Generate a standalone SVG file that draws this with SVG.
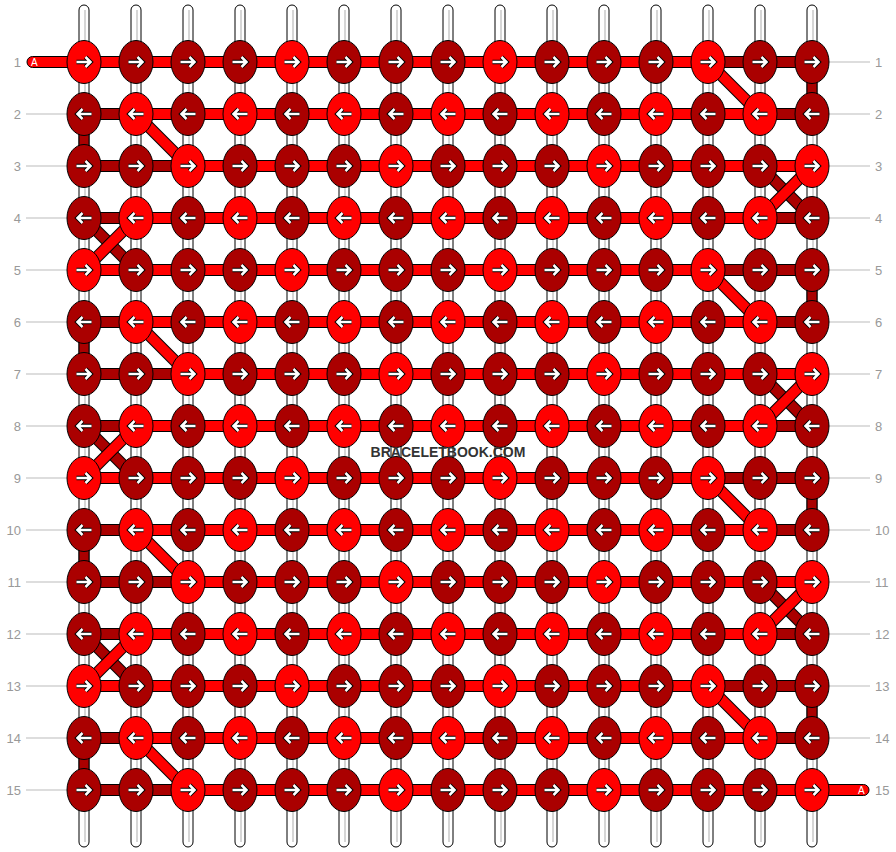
<svg xmlns="http://www.w3.org/2000/svg" xmlns:xlink="http://www.w3.org/1999/xlink" width="896" height="852" viewBox="0 0 896 852">
<style>
.s{fill:#fff;stroke:#000;stroke-width:1}
.g{stroke:#c8c8c8;stroke-width:1.5}
.hb{fill:#f00;stroke:#000;stroke-width:1}
.hd{fill:#a00;stroke:#000;stroke-width:1}
.vd{fill:#a00;stroke:#000;stroke-width:1}
.o{stroke:#000;stroke-width:12}
.db{stroke:#f00;stroke-width:10}
.dd{stroke:#a00;stroke-width:10}
.lab{font-family:"Liberation Sans",Arial,sans-serif;font-size:13px;fill:#999}
.ln{stroke:#bbb;stroke-width:1}
.ao{fill:none;stroke:#000;stroke-width:4.5}
.ai{fill:none;stroke:#fff;stroke-width:2.5}
.eb{fill:#f00;stroke:#000;stroke-width:1}
.ed{fill:#a00;stroke:#000;stroke-width:1}
.at{font-family:"Liberation Sans",Arial,sans-serif;font-size:10px;fill:#fff}
</style>
<defs>
<path id="aR" d="M-7.5,0H6M1.5,-5L6.5,0L1.5,5"/>
<path id="aL" d="M7.5,0H-6M-1.5,-5L-6.5,0L-1.5,5"/>
<g id="bR"><ellipse rx="17" ry="21.5" class="eb"/><use href="#aR" class="ao"/><use href="#aR" class="ai"/></g>
<g id="dR"><ellipse rx="17" ry="21.5" class="ed"/><use href="#aR" class="ao"/><use href="#aR" class="ai"/></g>
<g id="bL"><ellipse rx="17" ry="21.5" class="eb"/><use href="#aL" class="ao"/><use href="#aL" class="ai"/></g>
<g id="dL"><ellipse rx="17" ry="21.5" class="ed"/><use href="#aL" class="ao"/><use href="#aL" class="ai"/></g>
</defs>
<rect width="896" height="852" fill="#fff"/>
<g id="labels">
<line class="ln" x1="26" y1="114" x2="67" y2="114"/><line class="ln" x1="26" y1="166" x2="67" y2="166"/><line class="ln" x1="26" y1="218" x2="67" y2="218"/><line class="ln" x1="26" y1="270" x2="67" y2="270"/><line class="ln" x1="26" y1="322" x2="67" y2="322"/><line class="ln" x1="26" y1="374" x2="67" y2="374"/><line class="ln" x1="26" y1="426" x2="67" y2="426"/><line class="ln" x1="26" y1="478" x2="67" y2="478"/><line class="ln" x1="26" y1="530" x2="67" y2="530"/><line class="ln" x1="26" y1="582" x2="67" y2="582"/><line class="ln" x1="26" y1="634" x2="67" y2="634"/><line class="ln" x1="26" y1="686" x2="67" y2="686"/><line class="ln" x1="26" y1="738" x2="67" y2="738"/><line class="ln" x1="26" y1="790" x2="67" y2="790"/>
<line class="ln" x1="829" y1="62" x2="870" y2="62"/><line class="ln" x1="829" y1="114" x2="870" y2="114"/><line class="ln" x1="829" y1="166" x2="870" y2="166"/><line class="ln" x1="829" y1="218" x2="870" y2="218"/><line class="ln" x1="829" y1="270" x2="870" y2="270"/><line class="ln" x1="829" y1="322" x2="870" y2="322"/><line class="ln" x1="829" y1="374" x2="870" y2="374"/><line class="ln" x1="829" y1="426" x2="870" y2="426"/><line class="ln" x1="829" y1="478" x2="870" y2="478"/><line class="ln" x1="829" y1="530" x2="870" y2="530"/><line class="ln" x1="829" y1="582" x2="870" y2="582"/><line class="ln" x1="829" y1="634" x2="870" y2="634"/><line class="ln" x1="829" y1="686" x2="870" y2="686"/><line class="ln" x1="829" y1="738" x2="870" y2="738"/>
<g class="lab" text-anchor="end">
<text x="21" y="67">1</text><text x="21" y="119">2</text><text x="21" y="171">3</text><text x="21" y="223">4</text><text x="21" y="275">5</text><text x="21" y="327">6</text><text x="21" y="379">7</text><text x="21" y="431">8</text><text x="21" y="483">9</text><text x="21" y="535">10</text><text x="21" y="587">11</text><text x="21" y="639">12</text><text x="21" y="691">13</text><text x="21" y="743">14</text><text x="21" y="795">15</text>
</g>
<g class="lab">
<text x="875" y="67">1</text><text x="875" y="119">2</text><text x="875" y="171">3</text><text x="875" y="223">4</text><text x="875" y="275">5</text><text x="875" y="327">6</text><text x="875" y="379">7</text><text x="875" y="431">8</text><text x="875" y="483">9</text><text x="875" y="535">10</text><text x="875" y="587">11</text><text x="875" y="639">12</text><text x="875" y="691">13</text><text x="875" y="743">14</text><text x="875" y="795">15</text>
</g>
</g>
<g id="strings">
<rect class="s" x="79" y="5" width="10" height="842" rx="5"/><rect class="s" x="131" y="5" width="10" height="842" rx="5"/><rect class="s" x="183" y="5" width="10" height="842" rx="5"/><rect class="s" x="235" y="5" width="10" height="842" rx="5"/><rect class="s" x="287" y="5" width="10" height="842" rx="5"/><rect class="s" x="339" y="5" width="10" height="842" rx="5"/><rect class="s" x="391" y="5" width="10" height="842" rx="5"/><rect class="s" x="443" y="5" width="10" height="842" rx="5"/><rect class="s" x="495" y="5" width="10" height="842" rx="5"/><rect class="s" x="547" y="5" width="10" height="842" rx="5"/><rect class="s" x="599" y="5" width="10" height="842" rx="5"/><rect class="s" x="651" y="5" width="10" height="842" rx="5"/><rect class="s" x="703" y="5" width="10" height="842" rx="5"/><rect class="s" x="755" y="5" width="10" height="842" rx="5"/><rect class="s" x="807" y="5" width="10" height="842" rx="5"/>
<g class="g"><line x1="85" y1="10" x2="85" y2="842"/><line x1="137" y1="10" x2="137" y2="842"/><line x1="189" y1="10" x2="189" y2="842"/><line x1="241" y1="10" x2="241" y2="842"/><line x1="293" y1="10" x2="293" y2="842"/><line x1="345" y1="10" x2="345" y2="842"/><line x1="397" y1="10" x2="397" y2="842"/><line x1="449" y1="10" x2="449" y2="842"/><line x1="501" y1="10" x2="501" y2="842"/><line x1="553" y1="10" x2="553" y2="842"/><line x1="605" y1="10" x2="605" y2="842"/><line x1="657" y1="10" x2="657" y2="842"/><line x1="709" y1="10" x2="709" y2="842"/><line x1="761" y1="10" x2="761" y2="842"/><line x1="813" y1="10" x2="813" y2="842"/></g>
</g>
<g id="connectors">
<rect class="vd" x="807" y="62" width="10" height="52"/><rect class="vd" x="807" y="270" width="10" height="52"/><rect class="vd" x="807" y="478" width="10" height="52"/><rect class="vd" x="807" y="686" width="10" height="52"/>
<rect class="vd" x="79" y="114" width="10" height="52"/><rect class="vd" x="79" y="322" width="10" height="52"/><rect class="vd" x="79" y="530" width="10" height="52"/><rect class="vd" x="79" y="738" width="10" height="52"/>
<g class="o"><line x1="708" y1="62" x2="760" y2="114"/><line x1="708" y1="270" x2="760" y2="322"/><line x1="708" y1="478" x2="760" y2="530"/><line x1="708" y1="686" x2="760" y2="738"/><line x1="136" y1="114" x2="188" y2="166"/><line x1="136" y1="322" x2="188" y2="374"/><line x1="136" y1="530" x2="188" y2="582"/><line x1="136" y1="738" x2="188" y2="790"/></g>
<g class="db"><line x1="708" y1="62" x2="760" y2="114"/><line x1="708" y1="270" x2="760" y2="322"/><line x1="708" y1="478" x2="760" y2="530"/><line x1="708" y1="686" x2="760" y2="738"/><line x1="136" y1="114" x2="188" y2="166"/><line x1="136" y1="322" x2="188" y2="374"/><line x1="136" y1="530" x2="188" y2="582"/><line x1="136" y1="738" x2="188" y2="790"/></g>
<g class="o"><line x1="760" y1="166" x2="812" y2="218"/><line x1="760" y1="374" x2="812" y2="426"/><line x1="760" y1="582" x2="812" y2="634"/><line x1="84" y1="218" x2="136" y2="270"/><line x1="84" y1="426" x2="136" y2="478"/><line x1="84" y1="634" x2="136" y2="686"/></g>
<g class="dd"><line x1="760" y1="166" x2="812" y2="218"/><line x1="760" y1="374" x2="812" y2="426"/><line x1="760" y1="582" x2="812" y2="634"/><line x1="84" y1="218" x2="136" y2="270"/><line x1="84" y1="426" x2="136" y2="478"/><line x1="84" y1="634" x2="136" y2="686"/></g>
<g class="o"><line x1="812" y1="166" x2="760" y2="218"/><line x1="812" y1="374" x2="760" y2="426"/><line x1="812" y1="582" x2="760" y2="634"/><line x1="136" y1="218" x2="84" y2="270"/><line x1="136" y1="426" x2="84" y2="478"/><line x1="136" y1="634" x2="84" y2="686"/></g>
<g class="db"><line x1="812" y1="166" x2="760" y2="218"/><line x1="812" y1="374" x2="760" y2="426"/><line x1="812" y1="582" x2="760" y2="634"/><line x1="136" y1="218" x2="84" y2="270"/><line x1="136" y1="426" x2="84" y2="478"/><line x1="136" y1="634" x2="84" y2="686"/></g>
<rect class="hb" x="27" y="56.5" width="80" height="11" rx="5.5"/>
<rect class="hb" x="790" y="784.5" width="79" height="11" rx="5.5"/>
<rect class="hb" x="84" y="56.5" width="728" height="11"/><rect class="hb" x="84" y="108.5" width="728" height="11"/><rect class="hb" x="84" y="160.5" width="728" height="11"/><rect class="hb" x="84" y="212.5" width="728" height="11"/><rect class="hb" x="84" y="264.5" width="728" height="11"/><rect class="hb" x="84" y="316.5" width="728" height="11"/><rect class="hb" x="84" y="368.5" width="728" height="11"/><rect class="hb" x="84" y="420.5" width="728" height="11"/><rect class="hb" x="84" y="472.5" width="728" height="11"/><rect class="hb" x="84" y="524.5" width="728" height="11"/><rect class="hb" x="84" y="576.5" width="728" height="11"/><rect class="hb" x="84" y="628.5" width="728" height="11"/><rect class="hb" x="84" y="680.5" width="728" height="11"/><rect class="hb" x="84" y="732.5" width="728" height="11"/><rect class="hb" x="84" y="784.5" width="728" height="11"/>
<rect class="hd" x="708" y="56.5" width="104" height="11"/><rect class="hd" x="708" y="264.5" width="104" height="11"/><rect class="hd" x="708" y="472.5" width="104" height="11"/><rect class="hd" x="708" y="680.5" width="104" height="11"/>
<rect class="hd" x="84" y="160.5" width="104" height="11"/><rect class="hd" x="84" y="368.5" width="104" height="11"/><rect class="hd" x="84" y="576.5" width="104" height="11"/><rect class="hd" x="84" y="784.5" width="104" height="11"/>
<rect class="hd" x="84" y="108.5" width="52" height="11"/><rect class="hd" x="760" y="108.5" width="52" height="11"/><rect class="hd" x="84" y="212.5" width="52" height="11"/><rect class="hd" x="760" y="212.5" width="52" height="11"/>
<rect class="hd" x="84" y="316.5" width="52" height="11"/><rect class="hd" x="760" y="316.5" width="52" height="11"/><rect class="hd" x="84" y="420.5" width="52" height="11"/><rect class="hd" x="760" y="420.5" width="52" height="11"/>
<rect class="hd" x="84" y="524.5" width="52" height="11"/><rect class="hd" x="760" y="524.5" width="52" height="11"/><rect class="hd" x="84" y="628.5" width="52" height="11"/><rect class="hd" x="760" y="628.5" width="52" height="11"/>
<rect class="hd" x="84" y="732.5" width="52" height="11"/><rect class="hd" x="760" y="732.5" width="52" height="11"/>
<text class="at" x="31" y="66">A</text><text class="at" x="858" y="794">A</text>
</g>
<g id="nodes">
<g id="n1-1"><use href="#bR" x="84" y="62"/></g><g id="n1-2"><use href="#dR" x="136" y="62"/></g><g id="n1-3"><use href="#dR" x="188" y="62"/></g><g id="n1-4"><use href="#dR" x="240" y="62"/></g><g id="n1-5"><use href="#bR" x="292" y="62"/></g><g id="n1-6"><use href="#dR" x="344" y="62"/></g><g id="n1-7"><use href="#dR" x="396" y="62"/></g><g id="n1-8"><use href="#dR" x="448" y="62"/></g><g id="n1-9"><use href="#bR" x="500" y="62"/></g><g id="n1-10"><use href="#dR" x="552" y="62"/></g><g id="n1-11"><use href="#dR" x="604" y="62"/></g><g id="n1-12"><use href="#dR" x="656" y="62"/></g><g id="n1-13"><use href="#bR" x="708" y="62"/></g><g id="n1-14"><use href="#dR" x="760" y="62"/></g><g id="n1-15"><use href="#dR" x="812" y="62"/></g>
<g id="n2-1"><use href="#dL" x="84" y="114"/></g><g id="n2-2"><use href="#bL" x="136" y="114"/></g><g id="n2-3"><use href="#dL" x="188" y="114"/></g><g id="n2-4"><use href="#bL" x="240" y="114"/></g><g id="n2-5"><use href="#dL" x="292" y="114"/></g><g id="n2-6"><use href="#bL" x="344" y="114"/></g><g id="n2-7"><use href="#dL" x="396" y="114"/></g><g id="n2-8"><use href="#bL" x="448" y="114"/></g><g id="n2-9"><use href="#dL" x="500" y="114"/></g><g id="n2-10"><use href="#bL" x="552" y="114"/></g><g id="n2-11"><use href="#dL" x="604" y="114"/></g><g id="n2-12"><use href="#bL" x="656" y="114"/></g><g id="n2-13"><use href="#dL" x="708" y="114"/></g><g id="n2-14"><use href="#bL" x="760" y="114"/></g><g id="n2-15"><use href="#dL" x="812" y="114"/></g>
<g id="n3-1"><use href="#dR" x="84" y="166"/></g><g id="n3-2"><use href="#dR" x="136" y="166"/></g><g id="n3-3"><use href="#bR" x="188" y="166"/></g><g id="n3-4"><use href="#dR" x="240" y="166"/></g><g id="n3-5"><use href="#dR" x="292" y="166"/></g><g id="n3-6"><use href="#dR" x="344" y="166"/></g><g id="n3-7"><use href="#bR" x="396" y="166"/></g><g id="n3-8"><use href="#dR" x="448" y="166"/></g><g id="n3-9"><use href="#dR" x="500" y="166"/></g><g id="n3-10"><use href="#dR" x="552" y="166"/></g><g id="n3-11"><use href="#bR" x="604" y="166"/></g><g id="n3-12"><use href="#dR" x="656" y="166"/></g><g id="n3-13"><use href="#dR" x="708" y="166"/></g><g id="n3-14"><use href="#dR" x="760" y="166"/></g><g id="n3-15"><use href="#bR" x="812" y="166"/></g>
<g id="n4-1"><use href="#dL" x="84" y="218"/></g><g id="n4-2"><use href="#bL" x="136" y="218"/></g><g id="n4-3"><use href="#dL" x="188" y="218"/></g><g id="n4-4"><use href="#bL" x="240" y="218"/></g><g id="n4-5"><use href="#dL" x="292" y="218"/></g><g id="n4-6"><use href="#bL" x="344" y="218"/></g><g id="n4-7"><use href="#dL" x="396" y="218"/></g><g id="n4-8"><use href="#bL" x="448" y="218"/></g><g id="n4-9"><use href="#dL" x="500" y="218"/></g><g id="n4-10"><use href="#bL" x="552" y="218"/></g><g id="n4-11"><use href="#dL" x="604" y="218"/></g><g id="n4-12"><use href="#bL" x="656" y="218"/></g><g id="n4-13"><use href="#dL" x="708" y="218"/></g><g id="n4-14"><use href="#bL" x="760" y="218"/></g><g id="n4-15"><use href="#dL" x="812" y="218"/></g>
<g id="n5-1"><use href="#bR" x="84" y="270"/></g><g id="n5-2"><use href="#dR" x="136" y="270"/></g><g id="n5-3"><use href="#dR" x="188" y="270"/></g><g id="n5-4"><use href="#dR" x="240" y="270"/></g><g id="n5-5"><use href="#bR" x="292" y="270"/></g><g id="n5-6"><use href="#dR" x="344" y="270"/></g><g id="n5-7"><use href="#dR" x="396" y="270"/></g><g id="n5-8"><use href="#dR" x="448" y="270"/></g><g id="n5-9"><use href="#bR" x="500" y="270"/></g><g id="n5-10"><use href="#dR" x="552" y="270"/></g><g id="n5-11"><use href="#dR" x="604" y="270"/></g><g id="n5-12"><use href="#dR" x="656" y="270"/></g><g id="n5-13"><use href="#bR" x="708" y="270"/></g><g id="n5-14"><use href="#dR" x="760" y="270"/></g><g id="n5-15"><use href="#dR" x="812" y="270"/></g>
<g id="n6-1"><use href="#dL" x="84" y="322"/></g><g id="n6-2"><use href="#bL" x="136" y="322"/></g><g id="n6-3"><use href="#dL" x="188" y="322"/></g><g id="n6-4"><use href="#bL" x="240" y="322"/></g><g id="n6-5"><use href="#dL" x="292" y="322"/></g><g id="n6-6"><use href="#bL" x="344" y="322"/></g><g id="n6-7"><use href="#dL" x="396" y="322"/></g><g id="n6-8"><use href="#bL" x="448" y="322"/></g><g id="n6-9"><use href="#dL" x="500" y="322"/></g><g id="n6-10"><use href="#bL" x="552" y="322"/></g><g id="n6-11"><use href="#dL" x="604" y="322"/></g><g id="n6-12"><use href="#bL" x="656" y="322"/></g><g id="n6-13"><use href="#dL" x="708" y="322"/></g><g id="n6-14"><use href="#bL" x="760" y="322"/></g><g id="n6-15"><use href="#dL" x="812" y="322"/></g>
<g id="n7-1"><use href="#dR" x="84" y="374"/></g><g id="n7-2"><use href="#dR" x="136" y="374"/></g><g id="n7-3"><use href="#bR" x="188" y="374"/></g><g id="n7-4"><use href="#dR" x="240" y="374"/></g><g id="n7-5"><use href="#dR" x="292" y="374"/></g><g id="n7-6"><use href="#dR" x="344" y="374"/></g><g id="n7-7"><use href="#bR" x="396" y="374"/></g><g id="n7-8"><use href="#dR" x="448" y="374"/></g><g id="n7-9"><use href="#dR" x="500" y="374"/></g><g id="n7-10"><use href="#dR" x="552" y="374"/></g><g id="n7-11"><use href="#bR" x="604" y="374"/></g><g id="n7-12"><use href="#dR" x="656" y="374"/></g><g id="n7-13"><use href="#dR" x="708" y="374"/></g><g id="n7-14"><use href="#dR" x="760" y="374"/></g><g id="n7-15"><use href="#bR" x="812" y="374"/></g>
<g id="n8-1"><use href="#dL" x="84" y="426"/></g><g id="n8-2"><use href="#bL" x="136" y="426"/></g><g id="n8-3"><use href="#dL" x="188" y="426"/></g><g id="n8-4"><use href="#bL" x="240" y="426"/></g><g id="n8-5"><use href="#dL" x="292" y="426"/></g><g id="n8-6"><use href="#bL" x="344" y="426"/></g><g id="n8-7"><use href="#dL" x="396" y="426"/></g><g id="n8-8"><use href="#bL" x="448" y="426"/></g><g id="n8-9"><use href="#dL" x="500" y="426"/></g><g id="n8-10"><use href="#bL" x="552" y="426"/></g><g id="n8-11"><use href="#dL" x="604" y="426"/></g><g id="n8-12"><use href="#bL" x="656" y="426"/></g><g id="n8-13"><use href="#dL" x="708" y="426"/></g><g id="n8-14"><use href="#bL" x="760" y="426"/></g><g id="n8-15"><use href="#dL" x="812" y="426"/></g>
<g id="n9-1"><use href="#bR" x="84" y="478"/></g><g id="n9-2"><use href="#dR" x="136" y="478"/></g><g id="n9-3"><use href="#dR" x="188" y="478"/></g><g id="n9-4"><use href="#dR" x="240" y="478"/></g><g id="n9-5"><use href="#bR" x="292" y="478"/></g><g id="n9-6"><use href="#dR" x="344" y="478"/></g><g id="n9-7"><use href="#dR" x="396" y="478"/></g><g id="n9-8"><use href="#dR" x="448" y="478"/></g><g id="n9-9"><use href="#bR" x="500" y="478"/></g><g id="n9-10"><use href="#dR" x="552" y="478"/></g><g id="n9-11"><use href="#dR" x="604" y="478"/></g><g id="n9-12"><use href="#dR" x="656" y="478"/></g><g id="n9-13"><use href="#bR" x="708" y="478"/></g><g id="n9-14"><use href="#dR" x="760" y="478"/></g><g id="n9-15"><use href="#dR" x="812" y="478"/></g>
<g id="n10-1"><use href="#dL" x="84" y="530"/></g><g id="n10-2"><use href="#bL" x="136" y="530"/></g><g id="n10-3"><use href="#dL" x="188" y="530"/></g><g id="n10-4"><use href="#bL" x="240" y="530"/></g><g id="n10-5"><use href="#dL" x="292" y="530"/></g><g id="n10-6"><use href="#bL" x="344" y="530"/></g><g id="n10-7"><use href="#dL" x="396" y="530"/></g><g id="n10-8"><use href="#bL" x="448" y="530"/></g><g id="n10-9"><use href="#dL" x="500" y="530"/></g><g id="n10-10"><use href="#bL" x="552" y="530"/></g><g id="n10-11"><use href="#dL" x="604" y="530"/></g><g id="n10-12"><use href="#bL" x="656" y="530"/></g><g id="n10-13"><use href="#dL" x="708" y="530"/></g><g id="n10-14"><use href="#bL" x="760" y="530"/></g><g id="n10-15"><use href="#dL" x="812" y="530"/></g>
<g id="n11-1"><use href="#dR" x="84" y="582"/></g><g id="n11-2"><use href="#dR" x="136" y="582"/></g><g id="n11-3"><use href="#bR" x="188" y="582"/></g><g id="n11-4"><use href="#dR" x="240" y="582"/></g><g id="n11-5"><use href="#dR" x="292" y="582"/></g><g id="n11-6"><use href="#dR" x="344" y="582"/></g><g id="n11-7"><use href="#bR" x="396" y="582"/></g><g id="n11-8"><use href="#dR" x="448" y="582"/></g><g id="n11-9"><use href="#dR" x="500" y="582"/></g><g id="n11-10"><use href="#dR" x="552" y="582"/></g><g id="n11-11"><use href="#bR" x="604" y="582"/></g><g id="n11-12"><use href="#dR" x="656" y="582"/></g><g id="n11-13"><use href="#dR" x="708" y="582"/></g><g id="n11-14"><use href="#dR" x="760" y="582"/></g><g id="n11-15"><use href="#bR" x="812" y="582"/></g>
<g id="n12-1"><use href="#dL" x="84" y="634"/></g><g id="n12-2"><use href="#bL" x="136" y="634"/></g><g id="n12-3"><use href="#dL" x="188" y="634"/></g><g id="n12-4"><use href="#bL" x="240" y="634"/></g><g id="n12-5"><use href="#dL" x="292" y="634"/></g><g id="n12-6"><use href="#bL" x="344" y="634"/></g><g id="n12-7"><use href="#dL" x="396" y="634"/></g><g id="n12-8"><use href="#bL" x="448" y="634"/></g><g id="n12-9"><use href="#dL" x="500" y="634"/></g><g id="n12-10"><use href="#bL" x="552" y="634"/></g><g id="n12-11"><use href="#dL" x="604" y="634"/></g><g id="n12-12"><use href="#bL" x="656" y="634"/></g><g id="n12-13"><use href="#dL" x="708" y="634"/></g><g id="n12-14"><use href="#bL" x="760" y="634"/></g><g id="n12-15"><use href="#dL" x="812" y="634"/></g>
<g id="n13-1"><use href="#bR" x="84" y="686"/></g><g id="n13-2"><use href="#dR" x="136" y="686"/></g><g id="n13-3"><use href="#dR" x="188" y="686"/></g><g id="n13-4"><use href="#dR" x="240" y="686"/></g><g id="n13-5"><use href="#bR" x="292" y="686"/></g><g id="n13-6"><use href="#dR" x="344" y="686"/></g><g id="n13-7"><use href="#dR" x="396" y="686"/></g><g id="n13-8"><use href="#dR" x="448" y="686"/></g><g id="n13-9"><use href="#bR" x="500" y="686"/></g><g id="n13-10"><use href="#dR" x="552" y="686"/></g><g id="n13-11"><use href="#dR" x="604" y="686"/></g><g id="n13-12"><use href="#dR" x="656" y="686"/></g><g id="n13-13"><use href="#bR" x="708" y="686"/></g><g id="n13-14"><use href="#dR" x="760" y="686"/></g><g id="n13-15"><use href="#dR" x="812" y="686"/></g>
<g id="n14-1"><use href="#dL" x="84" y="738"/></g><g id="n14-2"><use href="#bL" x="136" y="738"/></g><g id="n14-3"><use href="#dL" x="188" y="738"/></g><g id="n14-4"><use href="#bL" x="240" y="738"/></g><g id="n14-5"><use href="#dL" x="292" y="738"/></g><g id="n14-6"><use href="#bL" x="344" y="738"/></g><g id="n14-7"><use href="#dL" x="396" y="738"/></g><g id="n14-8"><use href="#bL" x="448" y="738"/></g><g id="n14-9"><use href="#dL" x="500" y="738"/></g><g id="n14-10"><use href="#bL" x="552" y="738"/></g><g id="n14-11"><use href="#dL" x="604" y="738"/></g><g id="n14-12"><use href="#bL" x="656" y="738"/></g><g id="n14-13"><use href="#dL" x="708" y="738"/></g><g id="n14-14"><use href="#bL" x="760" y="738"/></g><g id="n14-15"><use href="#dL" x="812" y="738"/></g>
<g id="n15-1"><use href="#dR" x="84" y="790"/></g><g id="n15-2"><use href="#dR" x="136" y="790"/></g><g id="n15-3"><use href="#bR" x="188" y="790"/></g><g id="n15-4"><use href="#dR" x="240" y="790"/></g><g id="n15-5"><use href="#dR" x="292" y="790"/></g><g id="n15-6"><use href="#dR" x="344" y="790"/></g><g id="n15-7"><use href="#bR" x="396" y="790"/></g><g id="n15-8"><use href="#dR" x="448" y="790"/></g><g id="n15-9"><use href="#dR" x="500" y="790"/></g><g id="n15-10"><use href="#dR" x="552" y="790"/></g><g id="n15-11"><use href="#bR" x="604" y="790"/></g><g id="n15-12"><use href="#dR" x="656" y="790"/></g><g id="n15-13"><use href="#dR" x="708" y="790"/></g><g id="n15-14"><use href="#dR" x="760" y="790"/></g><g id="n15-15"><use href="#bR" x="812" y="790"/></g>
</g>
<text x="448" y="457" text-anchor="middle" font-family="'Liberation Sans',Arial,sans-serif" font-size="14" font-weight="bold" fill="#333">BRACELETBOOK.COM</text>
</svg>
